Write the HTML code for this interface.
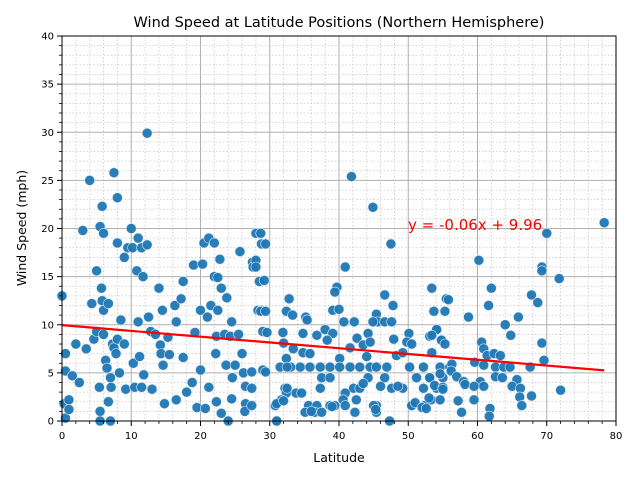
<!DOCTYPE html>
<html><head><meta charset="utf-8"><style>
html,body{margin:0;padding:0;background:#fff;}
svg{display:block;font-family:"DejaVu Sans","Liberation Sans",sans-serif;}
</style></head><body>
<svg id="chart" width="640" height="480" viewBox="0 0 640 480">
<rect width="640" height="480" fill="#fff"/>
<g id="grid"></g>
<g id="pts"></g>
<g id="reg"></g>
<g id="axes"></g>
<text x="339" y="27" text-anchor="middle" font-size="14.5">Wind Speed at Latitude Positions (Northern Hemisphere)</text>
<text x="339" y="462" text-anchor="middle" font-size="12.5">Latitude</text>
<text transform="translate(26,228) rotate(-90)" text-anchor="middle" font-size="12.5">Wind Speed (mph)</text>
<text x="408" y="230" font-size="15" fill="red">y = -0.06x + 9.96</text>
</svg>
<script>
const xTicks=[0,10,20,30,40,50,60,70,80];
const yTicks=[0,5,10,15,20,25,30,35,40];
const slope=-0.06, intercept=9.96;
const regRange=[0,78.3];
const lat=[0,0.5,0.5,0.3,0.5,1,1,1.5,2,2.5,3,3.5,4,4.3,4.6,5,5,5.5,5.4,5.5,5.5,5.7,5.8,6,5.8,6,6,6.3,6.5,6.7,6.7,7,7.1,7,7.5,7.3,7.5,7.8,8,8,8,8.3,8.5,9,9,9.2,9.5,10,10.2,10.3,10.5,10.8,11,11,11.2,11.5,11.7,11.8,11.5,12.3,12.3,12.5,12.8,13,13.5,14,14.5,14.2,14.3,14.6,14.8,15.3,15.5,16.3,16.5,16.5,17.2,17.5,17.5,18,18.8,19,19.2,19.5,20,20,20.3,20.5,20.7,21,21.2,21.5,21.2,22,22,22.5,22.5,22.3,22.2,22.3,22.8,23,23,23.5,23.8,23.7,24,24.5,24.3,24.6,24.5,25,25.5,25.7,26,26.2,26.5,26.5,26.4,27.5,27.6,28,28.3,28.5,28.8,28.8,29,29,
41.8,44.9,28.7,29.4,47.5,28,28,40.9,29.2,39.7,39.4,53.4,46.6,32.8,47.8,55.5,28.7,29.4,32.4,33.3,35.2,35.4,39.1,40,40.7,42.2,45.4,45.6,44.9,46.6,47.6,53.7,55.3,29.6,31.9,34.8,36.8,38,39.1,38.3,42.6,44.2,43.5,44.5,47.9,50.1,49.8,50.5,53.1,54.1,54.8,53.4,33.4,34.8,35.8,40.1,41.6,44,32.4,48.3,49.2,
31.5,33,34.4,35.8,37.3,38.7,40.1,41.6,43,44.5,45.4,46.9,50.2,52.2,54.6,56,27.4,29.4,
37.5,38.7,44.2,46.6,51.2,53.1,55,27.4,32.2,37.3,42.1,43,47.6,49.2,52.2,54.1,32.4,33.8,34.6,40.9,31.7,40.6,42.5,53.3,54.6,27.4,30.8,35.6,36.8,38.7,39.4,40.9,45.4,50.5,52.4,35.1,36.5,37.5,42.3,45.4,31,47.3,
78.3,70,60.2,69.3,69.3,71.8,62,67.8,68.7,55.8,61.6,58.7,65.9,64,64.8,54.1,53.4,54.8,55.3,60.6,60.9,61.4,62.4,63.3,69.3,69.6,59.6,60.9,56.3,56.2,67.6,62.6,63.8,64.7,62.6,63.6,65.7,54.6,53.1,53.8,55,57,58,58.2,60.4,60.9,59.5,65,66.2,72,67.8,66.1,66.4,57.2,59.5,57.7,61.8,61.7,
31,31,32,32.5,32.5,32,45,45.3,46,48.5,50.5,51,52,52.6,53,55,36,39,43.5];
const wind=[13,7,5.2,1.8,0.3,2.2,1.2,4.7,8,4,19.8,7.5,25,12.2,8.5,15.6,9.3,20.2,3.5,1,0,13.8,22.3,19.5,12.5,11.5,9,6.3,5.5,12.2,2,4.5,3.5,0,25.8,8,7.6,7,23.2,18.5,8.5,5,10.5,17,8,3.3,18,20,18,6,3.5,15.6,19,10.3,6.7,18,15,4.8,3.5,29.9,18.3,10.8,9.3,3.3,9,13.8,11.5,7.9,7,5.8,1.8,8.7,6.9,12,10.3,2.2,12.7,14.5,6.6,3,4,16.2,9.2,1.4,11.5,5.3,16.3,18.5,1.3,10.8,19,12,3.5,18.5,15,14.9,11.5,8.8,7,2,16.8,13.8,0.8,9,12.8,5.8,0,10.3,8.8,4.5,2.3,5.8,9,17.6,7,5,3.6,1.8,1,16.5,16,19.5,11.5,14.5,18.4,11.5,9.3,5.3,
25.4,22.2,19.5,18.4,18.4,16.7,16,16,14.6,13.9,13.4,13.8,13.1,12.7,12,12.7,11.4,11.4,11.4,11,10.8,10.5,11.5,11.6,10.3,10.3,11.1,10.3,10.3,10.3,10.3,11.4,11.4,9.2,9.2,9.1,8.9,9.5,9.1,8.4,8.6,9.1,7.9,8.2,8.5,9.1,8.2,8,8.8,9.5,8.4,7.1,7.5,7.1,7,6.5,7.6,6.7,6.5,6.8,7.1,
5.6,5.6,5.6,5.6,5.6,5.6,5.6,5.6,5.6,5.6,5.6,5.6,5.6,5.6,5.6,5.6,5.1,5.1,
4.5,4.5,4.5,4.5,4.5,4.5,4.5,3.4,3.4,3.4,3.4,3.4,3.4,3.4,3.4,3.4,2.9,2.9,2.9,2.9,2.2,2.2,2.2,2.2,2.2,1.6,1.6,1.6,1.6,1.6,1.6,1.6,1.6,1.6,1.6,0.9,0.9,0.9,0.9,0.9,0,0,
20.6,19.5,16.7,16,15.6,14.8,13.8,13.1,12.3,12.6,12,10.8,10.8,10,8.9,9.5,8.9,8.4,8,8.2,7.5,6.8,7,6.8,8.1,6.3,6.1,5.8,5.9,5.2,5.6,5.6,5.6,5.6,4.6,4.5,4.3,4.9,4.5,3.7,3.5,4.6,4.1,3.8,4.1,3.6,3.6,3.6,3.4,3.2,2.6,2.5,1.6,2.1,2.2,0.9,1.3,0.5,
1.8,0,2.1,3.4,5.6,8.1,1.6,1.2,3.6,3.6,1.6,1.9,1.4,1.3,2.4,3.3,1,1.5,3.9];

const X0=62,X1=616,Y0=421,Y1=36;
const sx=v=>X0+(v-0)/(80-0)*(X1-X0);
const sy=v=>Y0-(v-0)/(40-0)*(Y0-Y1);
const NS="http://www.w3.org/2000/svg";
function mk(tag,attrs,parent){const e=document.createElementNS(NS,tag);for(const k in attrs)e.setAttribute(k,attrs[k]);parent.appendChild(e);return e;}
const grid=document.getElementById('grid'),axes=document.getElementById('axes'),pts=document.getElementById('pts'),reg=document.getElementById('reg');
// minor grid
for(let v=2;v<80;v+=2){if(v%10===0)continue;const l=mk('line',{x1:sx(v),x2:sx(v),y1:Y1,y2:Y0,stroke:'#c8c8c8','stroke-width':0.8,'stroke-dasharray':'1.5,2'},grid);

}
for(let v=1;v<40;v++){if(v%5===0)continue;const l=mk('line',{x1:X0,x2:X1,y1:sy(v),y2:sy(v),stroke:'#c8c8c8','stroke-width':0.8,'stroke-dasharray':'1.5,2'},grid);

}
xTicks.forEach(v=>{const l=mk('line',{x1:sx(v),x2:sx(v),y1:Y1,y2:Y0,stroke:'#b0b0b0','stroke-width':1},grid);


mk('line',{x1:sx(v),x2:sx(v),y1:Y0,y2:Y0+5,stroke:'#000','stroke-width':1},axes);
const t=mk('text',{x:sx(v),y:Y0+18,'text-anchor':'middle','font-size':10},axes);t.textContent=v;

});
yTicks.forEach(v=>{const l=mk('line',{x1:X0,x2:X1,y1:sy(v),y2:sy(v),stroke:'#b0b0b0','stroke-width':1},grid);


mk('line',{x1:X0-5,x2:X0,y1:sy(v),y2:sy(v),stroke:'#000','stroke-width':1},axes);
const t=mk('text',{x:X0-8,y:sy(v)+3.5,'text-anchor':'end','font-size':10},axes);t.textContent=v;

});
for(let v=2;v<80;v+=2){if(v%10)mk('line',{x1:sx(v),x2:sx(v),y1:Y0,y2:Y0+3,stroke:'#000','stroke-width':0.8},axes);}
for(let v=1;v<40;v++){if(v%5)mk('line',{x1:X0-3,x2:X0,y1:sy(v),y2:sy(v),stroke:'#000','stroke-width':0.8},axes);}
const frame=mk('rect',{x:X0,y:Y1,width:X1-X0,height:Y0-Y1,fill:'none',stroke:'#000','stroke-width':1},axes);


for(let i=0;i<lat.length;i++){const c=mk('circle',{cx:sx(lat[i]),cy:sy(wind[i]),r:5,fill:'#1f77b4','fill-opacity':0.95,stroke:'#dbe8f3','stroke-width':0.6},pts);

}
const rl=mk('line',{x1:sx(regRange[0]),y1:sy(intercept+slope*regRange[0]),x2:sx(regRange[1]),y2:sy(intercept+slope*regRange[1]),stroke:'red','stroke-width':2.2},reg);


</script>
</body></html>
